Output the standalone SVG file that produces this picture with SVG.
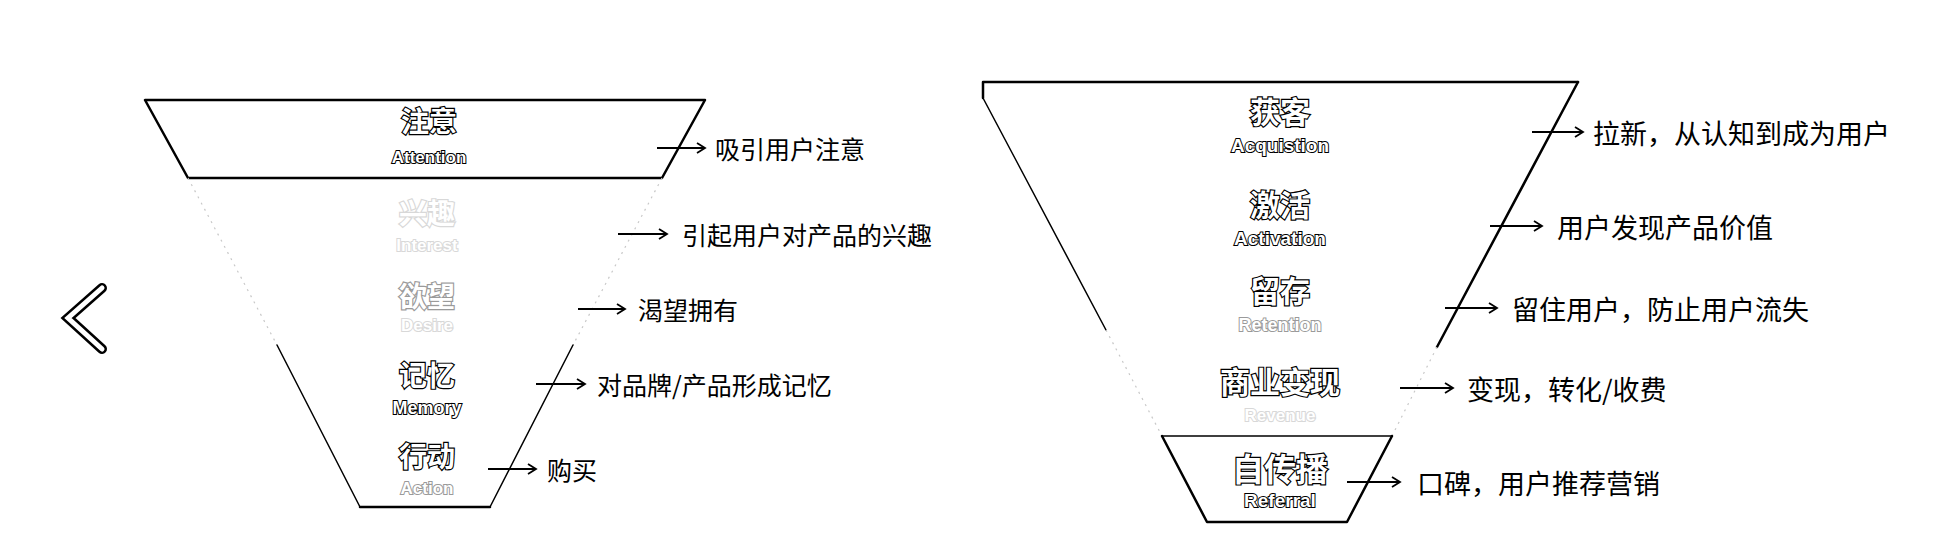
<svg xmlns="http://www.w3.org/2000/svg" width="1938" height="552" viewBox="0 0 1938 552">
<style>
.edge{fill:none;stroke:#000;stroke-width:2.5;stroke-linejoin:round;stroke-linecap:round}
.thin{fill:none;stroke:#000;stroke-width:1.5;stroke-linecap:round}
.faintline{fill:none;stroke:#c8c8c8;stroke-width:1.2;stroke-dasharray:2 5}
.cn{font-family:"Noto Sans CJK SC","Noto Sans",sans-serif;font-weight:700;fill:#fff;stroke:#000;stroke-width:2.4;paint-order:stroke;text-anchor:middle;dominant-baseline:central}
.en{font-family:"Liberation Sans",Arial,sans-serif;font-weight:700;fill:#fff;stroke:#000;stroke-width:2;paint-order:stroke;text-anchor:middle;dominant-baseline:central}
.f1{stroke:#9a9a9a}
.f2{stroke:#d8d8d8}
.note{font-family:"Noto Sans CJK SC","Noto Sans",sans-serif;fill:#000;dominant-baseline:central}
.arrow{fill:none;stroke:#000;stroke-width:1.8;marker-end:url(#ah)}
</style>
<defs>
<marker id="ah" markerUnits="userSpaceOnUse" markerWidth="14" markerHeight="14" refX="10" refY="6" orient="auto">
<path d="M2,1 L10,6 L2,11" fill="none" stroke="#000" stroke-width="1.8"/>
</marker>
</defs>
<rect width="1938" height="552" fill="#fff"/>

<g id="back-chevron">
<path d="M102,288 L68,318 L102,349" fill="none" stroke="#000" stroke-width="10" stroke-linecap="round" stroke-linejoin="miter"/>
<path d="M102,288 L68,318 L102,349" fill="none" stroke="#fff" stroke-width="5" stroke-linecap="round" stroke-linejoin="miter"/>
</g>

<g id="aidma-funnel">
<g id="aidma-attention">
<path class="edge" d="M145,100 L705,100 L662,178 L188,178 Z"/>
<text class="cn" x="429" y="120" font-size="28">注意</text>
<text class="en" x="429" y="157" font-size="17">Attention</text>
</g>
<g id="aidma-outline">
<path class="faintline" d="M188,178 L277,345"/>
<path class="faintline" d="M662,178 L573,345"/>
<path class="thin" d="M277,345 L360,507"/>
<path class="thin" d="M573,345 L490,507"/>
<path class="edge" d="M360,507 L490,507"/>
</g>
<g id="aidma-interest">
<text class="cn f2" x="427" y="212" font-size="28">兴趣</text>
<text class="en f2" x="427" y="245" font-size="17">Interest</text>
</g>
<g id="aidma-desire">
<text class="cn f1" x="427" y="295" font-size="28">欲望</text>
<text class="en f2" x="427" y="325" font-size="17">Desire</text>
</g>
<g id="aidma-memory">
<text class="cn" x="427" y="374" font-size="28">记忆</text>
<text class="en" x="427" y="408" font-size="18">Memory</text>
</g>
<g id="aidma-action">
<text class="cn" x="427" y="455" font-size="28">行动</text>
<text class="en f1" x="427" y="488" font-size="17">Action</text>
</g>
</g>

<g id="aarrr-funnel">
<g id="aarrr-outline">
<path class="edge" d="M983,98 L983,82 L1578,82"/>
<path class="thin" d="M983,98 L1106,330"/>
<path class="faintline" d="M1106,330 L1162,436"/>
<path class="edge" d="M1578,82 L1437,347"/>
<path class="faintline" d="M1437,347 L1392,436"/>
</g>
<g id="aarrr-acquisition">
<text class="cn" x="1280" y="110" font-size="30">获客</text>
<text class="en" x="1280" y="145" font-size="19">Acquistion</text>
</g>
<g id="aarrr-activation">
<text class="cn" x="1280" y="203" font-size="30">激活</text>
<text class="en" x="1280" y="238" font-size="19">Activation</text>
</g>
<g id="aarrr-retention">
<text class="cn" x="1280" y="289" font-size="30">留存</text>
<text class="en f1" x="1280" y="325" font-size="18">Retention</text>
</g>
<g id="aarrr-revenue">
<text class="cn" x="1280" y="380" font-size="30">商业变现</text>
<text class="en f2" x="1280" y="415" font-size="17">Revenue</text>
</g>
<g id="aarrr-referral">
<path class="thin" d="M1162,436 L1392,436"/>
<path class="edge" d="M1162,436 L1207,522 L1347,522 L1392,436"/>
<text class="cn" x="1280" y="467" font-size="32">自传播</text>
<text class="en" x="1280" y="500" font-size="19">Referral</text>
</g>
</g>

<g id="connectors">
<line class="arrow" x1="657" y1="148" x2="705" y2="148"/>
<line class="arrow" x1="618" y1="234" x2="667" y2="234"/>
<line class="arrow" x1="578" y1="309" x2="625" y2="309"/>
<line class="arrow" x1="536" y1="384" x2="585" y2="384"/>
<line class="arrow" x1="488" y1="469" x2="536" y2="469"/>
<line class="arrow" x1="1532" y1="132" x2="1583" y2="132"/>
<line class="arrow" x1="1490" y1="226" x2="1542" y2="226"/>
<line class="arrow" x1="1445" y1="308" x2="1497" y2="308"/>
<line class="arrow" x1="1400" y1="388" x2="1453" y2="388"/>
<line class="arrow" x1="1347" y1="482" x2="1400" y2="482"/>
</g>

<g id="notes">
<text class="note" x="715" y="148" font-size="25">吸引用户注意</text>
<text class="note" x="682" y="234" font-size="25">引起用户对产品的兴趣</text>
<text class="note" x="638" y="309" font-size="25">渴望拥有</text>
<text class="note" x="597" y="384" font-size="25">对品牌/产品形成记忆</text>
<text class="note" x="547" y="469" font-size="25">购买</text>
<text class="note" x="1593" y="132" font-size="27">拉新，从认知到成为用户</text>
<text class="note" x="1557" y="226" font-size="27">用户发现产品价值</text>
<text class="note" x="1512" y="308" font-size="27">留住用户，防止用户流失</text>
<text class="note" x="1467" y="388" font-size="27">变现，转化/收费</text>
<text class="note" x="1417" y="482" font-size="27">口碑，用户推荐营销</text>
</g>
</svg>
